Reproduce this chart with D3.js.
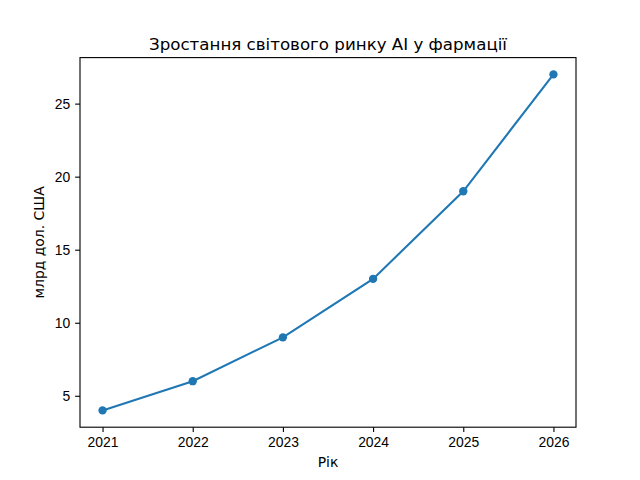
<!DOCTYPE html>
<meta charset="utf-8">
<title>Зростання світового ринку AI у фармації</title>
<style>
body { margin: 0; background: #fff; }
svg { font-family: "DejaVu Sans", sans-serif; }
.axis path, .axis line { stroke: #000; stroke-width: 1.11px; fill: none; }
.axis text { font-size: 13.9px; fill: #000; }
</style>
<body>
<script src="https://cdn.jsdelivr.net/npm/d3@7"></script>
<script>

var years = [2021, 2022, 2023, 2024, 2025, 2026];
var values = [4, 6, 9, 13, 19, 27];
var yTicks = [5, 10, 15, 20, 25];

var width = 640, height = 480;
var margin = {left: 80, right: 576, top: 57.6, bottom: 427.2};

var svg = d3.select("body").append("svg")
    .attr("width", width)
    .attr("height", height);

var x = d3.scaleLinear().domain([2020.75, 2026.25]).range([margin.left, margin.right]);
var y = d3.scaleLinear().domain([2.85, 28.15]).range([margin.bottom, margin.top]);

var xAxis = d3.axisBottom(x).tickValues(years).tickFormat(d3.format("d"))
    .tickSize(4.86).tickPadding(4.86);
var yAxis = d3.axisLeft(y).tickValues(yTicks)
    .tickSize(4.86).tickPadding(4.86);

svg.append("g")
    .attr("class", "axis")
    .attr("transform", "translate(0," + margin.bottom + ")")
    .call(xAxis)
    .call(function(g) { g.select(".domain").remove(); });

svg.append("g")
    .attr("class", "axis")
    .attr("transform", "translate(" + margin.left + ",0)")
    .call(yAxis)
    .call(function(g) { g.select(".domain").remove(); });

// frame
svg.append("rect")
    .attr("x", margin.left).attr("y", margin.top)
    .attr("width", margin.right - margin.left).attr("height", margin.bottom - margin.top)
    .attr("fill", "none")
    .attr("stroke", "#000")
    .attr("stroke-width", 1.11);

var data = years.map(function(d, i) { return {year: d, value: values[i]}; });

var line = d3.line()
    .x(function(d) { return x(d.year); })
    .y(function(d) { return y(d.value); });

svg.append("path")
    .datum(data)
    .attr("d", line)
    .attr("fill", "none")
    .attr("stroke", "#1f77b4")
    .attr("stroke-width", 2.08);

svg.selectAll(".dot")
    .data(data)
  .enter().append("circle")
    .attr("class", "dot")
    .attr("cx", function(d) { return x(d.year); })
    .attr("cy", function(d) { return y(d.value); })
    .attr("r", 4.17)
    .attr("fill", "#1f77b4");

svg.append("text")
    .attr("x", (margin.left + margin.right) / 2)
    .attr("y", 49.5)
    .attr("text-anchor", "middle")
    .attr("font-size", 16.67)
    .text("Зростання світового ринку AI у фармації");

svg.append("text")
    .attr("x", (margin.left + margin.right) / 2)
    .attr("y", 467)
    .attr("text-anchor", "middle")
    .attr("font-size", 13.9)
    .text("Рік");

svg.append("text")
    .attr("transform", "translate(44," + ((margin.top + margin.bottom) / 2) + ") rotate(-90)")
    .attr("text-anchor", "middle")
    .attr("font-size", 13.9)
    .text("млрд дол. США");

</script>
</body>
